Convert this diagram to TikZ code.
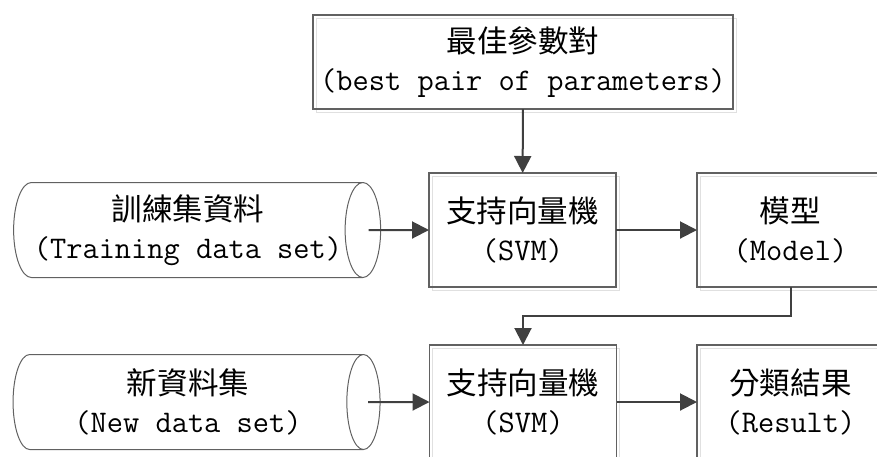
\documentclass[tikz,border=0pt]{standalone}
\usepackage{fontspec}
\newfontfamily\cjk{Noto Sans CJK TC}[Scale=0.97]
\usetikzlibrary{arrows.meta,shapes.geometric}
\begin{document}
\begin{tikzpicture}[
  x=1pt, y=-1pt,
  font=\ttfamily\fontsize{31.5}{38}\selectfont,
  box/.style={draw=black!62, line width=1.1pt, align=center, minimum width=187pt, minimum height=114pt, inner sep=0pt, outer sep=0pt,
    preaction={draw=black!12, line width=1pt, transform canvas={shift={(3pt,-3pt)}}}},
  store/.style={cylinder, draw=black!62, line width=1pt, shape aspect=0.5, minimum width=95pt, minimum height=367pt, align=center, inner sep=0pt, outer sep=0pt},
  line/.style={draw=black!75, line width=2pt, -{Triangle[length=17pt,width=17pt]}}
]
\useasboundingbox (0,0) rectangle (877,456);
\node[box, minimum width=420pt, minimum height=94pt] (best) at (523,62) {{\cjk 最佳參數對}\\(best pair of parameters)};
\node[store] (train) at (188,230) {{\cjk 訓練集資料}\\(Training data set)};
\node[box] (svm1) at (522.5,230) {{\cjk 支持向量機}\\(SVM)};
\node[box] (model) at (790.5,230) {{\cjk 模型}\\(Model)};
\node[store] (newset) at (188,402) {{\cjk 新資料集}\\(New data set)};
\node[box] (svm2) at (523,402) {{\cjk 支持向量機}\\(SVM)};
\node[box] (result) at (790.5,402) {{\cjk 分類結果}\\(Result)};
\coordinate (bend) at (523,316);

\draw[line] (best) -- (svm1);
\draw[line] ([xshift=-12pt]train.east) -- (svm1);
\draw[line] (svm1) -- (model);
\draw[line] (model.south) |- (bend) -- (svm2);
\draw[line] ([xshift=-12pt]newset.east) -- (svm2);
\draw[line] (svm2) -- (result);
\end{tikzpicture}
\end{document}
